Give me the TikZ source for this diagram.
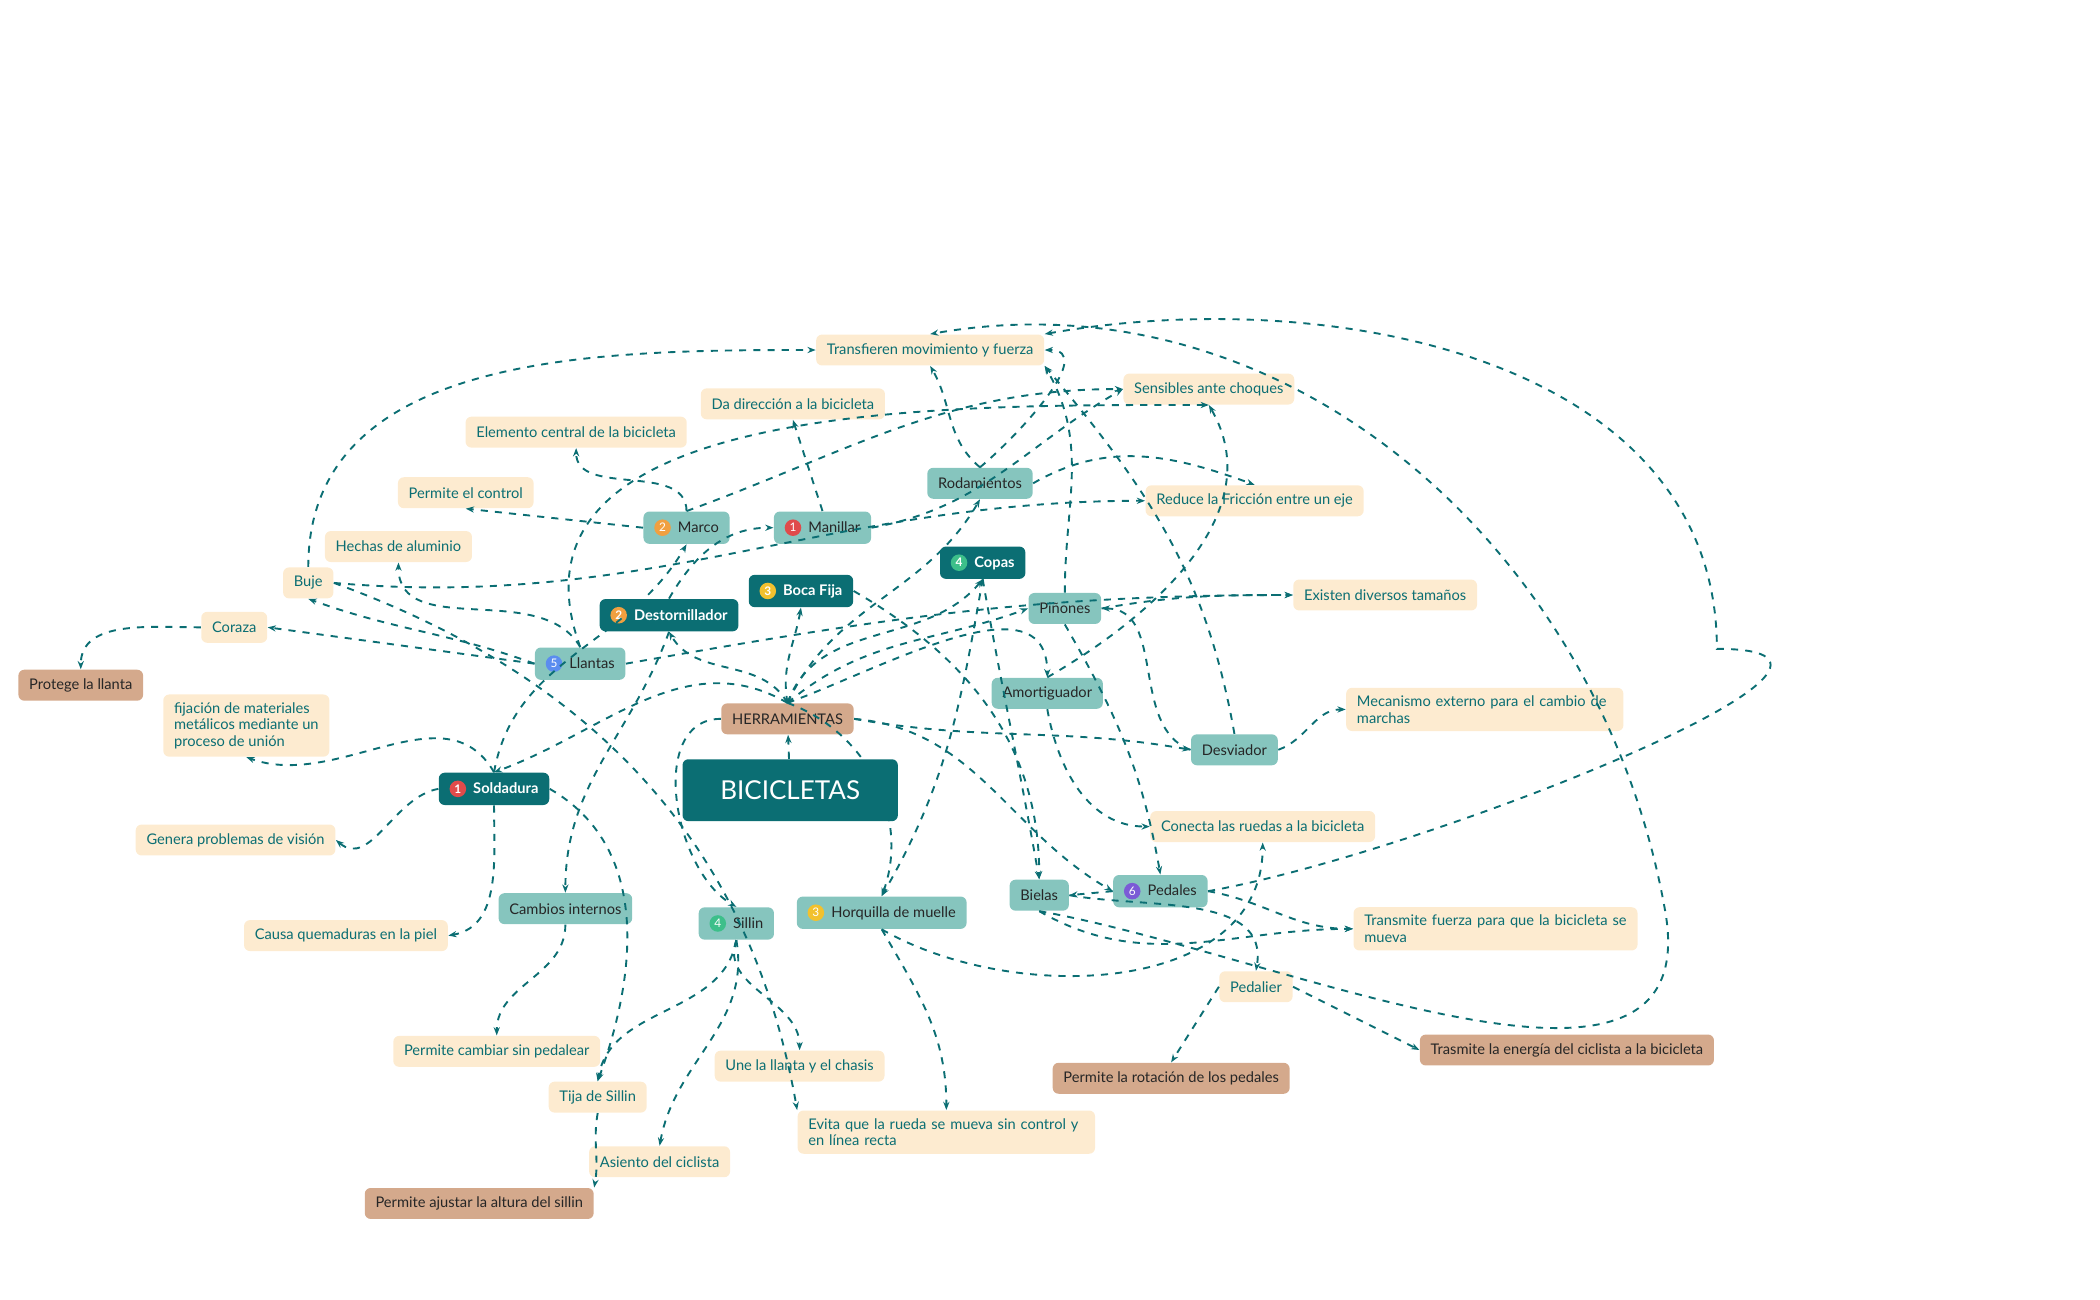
\documentclass[tikz,border=0pt]{standalone}
\usepackage{fontspec}
\setmainfont{Lato}
\usetikzlibrary{arrows.meta}
\usetikzlibrary{positioning}
\definecolor{deep}{HTML}{0B6E73}
\definecolor{mint}{HTML}{86C5BE}
\definecolor{cream}{HTML}{FDEBD0}
\definecolor{tan}{HTML}{D4A98C}
\definecolor{rojo}{HTML}{E04B4B}
\definecolor{naranja}{HTML}{F0A040}
\definecolor{amarillo}{HTML}{F2C12E}
\definecolor{verde}{HTML}{3DBF8A}
\definecolor{azul}{HTML}{5B8DEF}
\definecolor{morado}{HTML}{7B5BD6}
\newcommand{\nbadge}[2]{\tikz[baseline=-0.65ex]\node[circle,fill=#1,text=white,inner sep=0.4pt,minimum size=7pt,font=\fontsize{5}{5}\selectfont]{#2};\hspace{3pt}}

\begin{document}
\begin{tikzpicture}[
    x=0.02cm, y=-0.02cm,
    box/.style={
        rounded corners=2.5pt,
        minimum height=0.46cm,
        inner xsep=0.16cm,
        font=\fontsize{6.2}{7}\selectfont,
        align=left
    },
    dark/.style={box, fill=deep, text=white, font=\fontsize{6.2}{7}\selectfont\bfseries},
    mid/.style={box, fill=mint, text=black!85},
    note/.style={box, fill=cream, text=deep},
    leaf/.style={box, fill=tan, text=black!85},
    link/.style={draw=deep, dashed, thick, -{Stealth[length=3.5pt]}}
]
\useasboundingbox (0,0) rectangle (1560,965);

% centro
\node[dark, minimum width=3.2cm, minimum height=0.92cm, font=\fontsize{11}{12}\selectfont] (bici) at (587,587) {BICICLETAS};
\node[leaf] (herr) at (585,534) {HERRAMIENTAS};

% herramientas
\node[dark] (soldadura) at (367,586) {\nbadge{rojo}{1}Soldadura};
\node[dark] (destorn) at (497,457) {\nbadge{naranja}{2}Destornillador};
\node[dark] (bocafija) at (595,439) {\nbadge{amarillo}{3}Boca Fija};
\node[dark] (copas) at (730,418) {\nbadge{verde}{4}Copas};

% partes
\node[mid] (marco) at (510,392) {\nbadge{naranja}{2}Marco};
\node[mid] (manillar) at (611,392) {\nbadge{rojo}{1}Manillar};
\node[mid] (rodam) at (728,359) {Rodamientos};
\node[mid] (pinones) at (791,452) {Piñones};
\node[mid] (amort) at (778,515) {Amortiguador};
\node[mid] (desviador) at (917,557) {Desviador};
\node[mid] (llantas) at (431,493) {\nbadge{azul}{5}Llantas};
\node[mid] (cambios) at (420,675) {Cambios internos};
\node[mid] (sillin) at (547,686) {\nbadge{verde}{4}Sillin};
\node[mid] (horquilla) at (655,678) {\nbadge{amarillo}{3}Horquilla de muelle};
\node[mid] (bielas) at (772,665) {Bielas};
\node[mid] (pedales) at (862,662) {\nbadge{morado}{6}Pedales};

% notas
\node[note] (transf) at (691,260) {Transfieren movimiento y fuerza};
\node[note] (sensibles) at (898,289) {Sensibles ante choques};
\node[note] (dadir) at (589,300) {Da dirección a la bicicleta};
\node[note] (elemento) at (428,321) {Elemento central de la bicicleta};
\node[note] (control) at (346,366) {Permite el control};
\node[note] (reduce) at (932,372) {Reduce la Fricción entre un eje};
\node[note] (hechas) at (296,406) {Hechas de aluminio};
\node[note] (buje) at (229,433) {Buje};
\node[note] (coraza) at (174,466) {Coraza};
\node[note] (existen) at (1029,442) {Existen diversos tamaños};
\node[note] (fijacion) at (183,539) {fijación de materiales\\metálicos mediante un\\proceso de unión};
\node[note, text width=3.8cm] (mecanismo) at (1103,527) {Mecanismo externo para el cambio de marchas};
\node[note] (conecta) at (938,614) {Conecta las ruedas a la bicicleta};
\node[note] (genera) at (175,624) {Genera problemas de visión};
\node[note] (causa) at (257,695) {Causa quemaduras en la piel};
\node[note, text width=3.9cm] (transmite) at (1111,690) {Transmite fuerza para que la bicicleta se mueva};
\node[note] (pedalier) at (933,733) {Pedalier};
\node[note] (cambiar) at (369,781) {Permite cambiar sin pedalear};
\node[note] (tija) at (444,815) {Tija de Sillin};
\node[note] (une) at (594,792) {Une la llanta y el chasis};
\node[note, text width=4.1cm] (evita) at (703,841) {Evita que la rueda se mueva sin control y en línea recta};
\node[note] (asiento) at (490,863) {Asiento del ciclista};

% hojas
\node[leaf] (protege) at (60,509) {Protege la llanta};
\node[leaf] (rotacion) at (870,801) {Permite la rotación de los pedales};
\node[leaf] (trasmite) at (1164,780) {Trasmite la energía del ciclista a la bicicleta};
\node[leaf] (ajustar) at (356,894) {Permite ajustar la altura del sillin};

% conexiones
\draw[link] (bici) -- (herr);
\draw[link] (herr.north) to[out=150,in=20] (soldadura.north);
\draw[link] (herr.north) to[out=120,in=-60] (destorn.south);
\draw[link] (herr.north) to[out=100,in=-100] (bocafija.south);
\draw[link] (herr.north) to[out=70,in=-130] (copas.south);
\draw[link] (herr.north) to[out=65,in=-120] (rodam.south);
\draw[link] (herr.north) to[out=40,in=-160] (pinones.west);
\draw[link] (herr.north) to[out=20,in=90] (amort.north);
\draw[link] (herr.east) to[out=-10,in=170] (desviador.west);
\draw[link] (herr.east) to[out=-5,in=150] (pedales.west);
\draw[link] (herr.west) to[out=180,in=150] (sillin.north);
\draw[link] (herr.north) to[out=-20,in=70] (horquilla.north);
\draw[link] (soldadura.north) to[out=120,in=-20] (fijacion.south);
\draw[link] (soldadura.west) to[out=190,in=-40] (genera.east);
\draw[link] (soldadura.south) to[out=-90,in=10] (causa.east);
\draw[link] (soldadura.east) to[out=-30,in=70] (tija.north);
\draw[link] (soldadura.north) to[out=80,in=-120] (marco.south);
\draw[link] (destorn.north) to[out=60,in=180] (manillar.west);
\draw[link] (destorn.south) to[out=-110,in=90] (cambios.north);
\draw[link] (bocafija.east) to[out=-30,in=90] (bielas.north);
\draw[link] (copas.south) to[out=-100,in=60] (horquilla.north);
\draw[link] (copas.south) to[out=-80,in=100] (bielas.north);
\draw[link] (marco.north) to[out=90,in=-90] (elemento.south);
\draw[link] (marco.west) -- (control.south);
\draw[link] (marco.north) to[out=20,in=180] (sensibles.west);
\draw[link] (manillar.north) -- (dadir.south);
\draw[link] (manillar.east) to[out=10,in=-150] (sensibles.west);
\draw[link] (rodam.north) to[out=140,in=-60] (transf.south);
\draw[link] (rodam.east) to[out=30,in=160] (reduce.north);
\draw[link] (rodam.north) to[out=40,in=0] (transf.east);
\draw[link] (llantas.north) to[out=120,in=-90] (hechas.south);
\draw[link] (llantas.west) to[out=160,in=-20] (buje.south);
\draw[link] (llantas.west) -- (coraza.east);
\draw[link] (llantas.east) to[out=10,in=180] (existen.west);
\draw[link] (llantas.north) to[out=110,in=180] (sensibles.south);
\draw[link] (buje.north) to[out=90,in=180] (transf.west);
\draw[link] (buje.east) to[out=-5,in=180] (reduce.west);
\draw[link] (buje.east) to[out=-20,in=100] (evita.north west);
\draw[link] (coraza.west) to[out=180,in=90] (protege.north);
\draw[link] (pinones.north) to[out=90,in=-60] (transf.south east);
\draw[link] (pinones.east) to[out=10,in=180] (existen.west);
\draw[link] (pinones.south) to[out=-60,in=100] (pedales.north);
\draw[link] (amort.north) to[out=30,in=-60] (sensibles.south);
\draw[link] (amort.south) to[out=-80,in=180] (conecta.west);
\draw[link] (desviador.north) to[out=100,in=-50] (transf.south east);
\draw[link] (desviador.west) to[out=160,in=0] (pinones.east);
\draw[link] (desviador.east) to[out=20,in=180] (mecanismo.west);
\draw[link] (horquilla.south) to[out=-60,in=90] (evita.north);
\draw[link] (horquilla.south) to[out=-30,in=-90] (conecta.south);
\draw[link] (sillin.south) to[out=-110,in=90] (une.north);
\draw[link] (sillin.south) to[out=-100,in=80] (tija.north);
\draw[link] (sillin.south) to[out=-80,in=80] (asiento.north);
\draw[link] (pedales.east) to[out=10,in=0] ++(378,-180) to[out=90,in=10] (transf.north east);
\draw[link] (bielas.south) to[out=-10,in=-80] ++(465,0) to[out=100,in=10] (transf.north);
\draw[link] (pedales.west) -- (bielas.east);
\draw[link] (pedales.east) to[out=-10,in=180] (transmite.west);
\draw[link] (bielas.south) to[out=-30,in=180] (transmite.west);
\draw[link] (bielas.east) to[out=-10,in=80] (pedalier.north);
\draw[link] (pedalier.west) -- (rotacion.north);
\draw[link] (pedalier.east) -- (trasmite.west);
\draw[link] (cambios.south) to[out=-90,in=90] (cambiar.north);
\draw[link] (tija.south) to[out=-100,in=80] (ajustar.north east);
\end{tikzpicture}
\end{document}
